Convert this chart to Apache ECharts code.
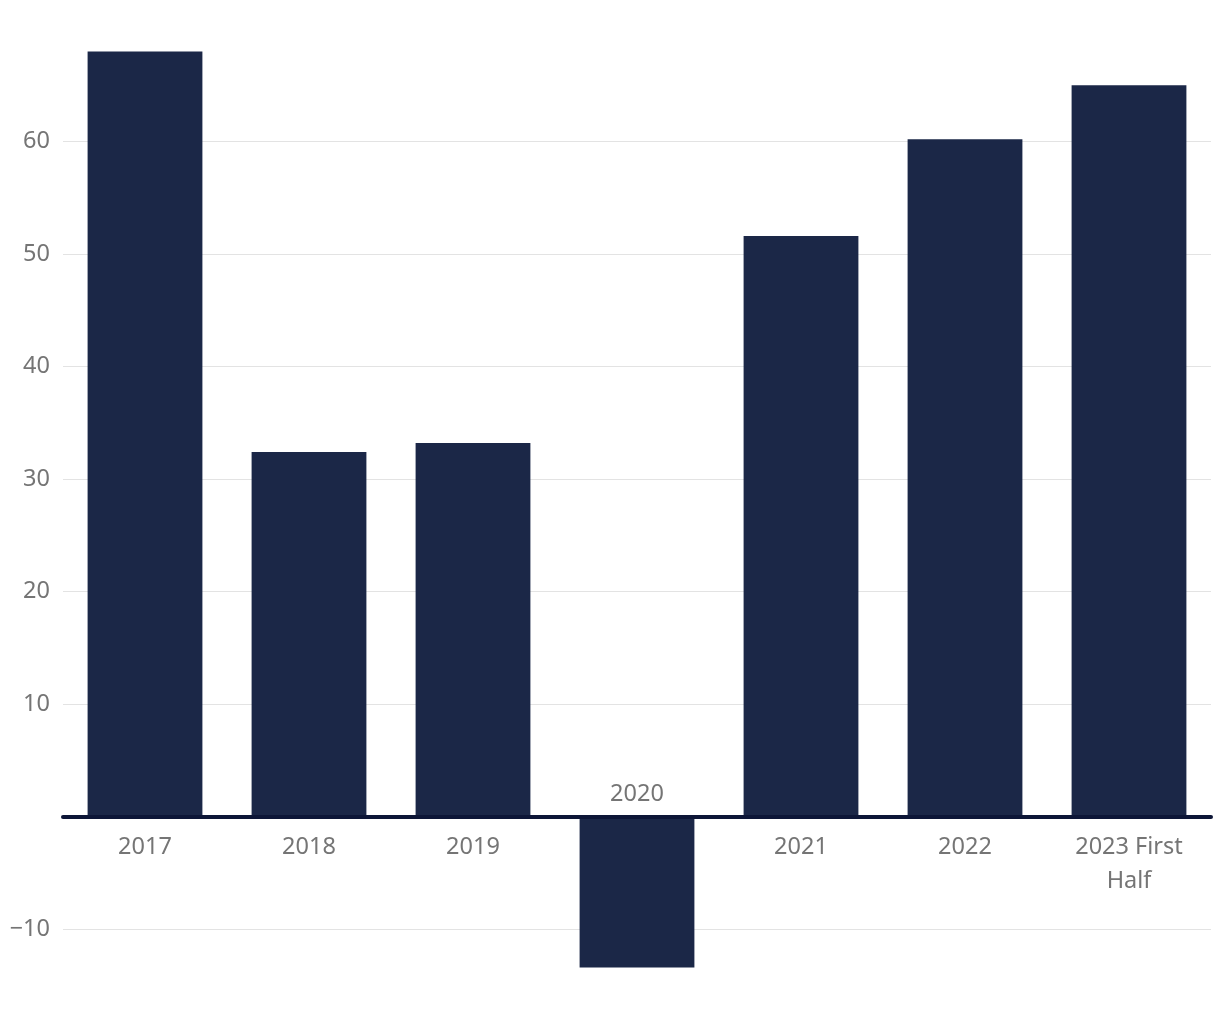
<!DOCTYPE html>
<html><head><meta charset="utf-8">
<script src="https://cdn.jsdelivr.net/npm/echarts@6/dist/echarts.min.js"></script>
<style>html,body{margin:0;padding:0;background:#fff}#c{width:1220px;height:1020px}</style>
</head><body><div id="c"></div>
<script>
const categories = ['2017', '2018', '2019', '2020', '2021', '2022', '2023 First\nHalf'];
const values = [68, 32.4, 33.2, -13.4, 51.6, 60.2, 65.0];
const yMin = -13.4, yMax = 68;

const FONT = 'Noto Sans';
const chart = echarts.init(document.getElementById('c'));
chart.setOption({
  animation: false,
  grid: { left: 63, right: 9, top: 51.5, bottom: 52.5, containLabel: false },
  xAxis: {
    type: 'category', data: categories,
    axisLine: { onZero: true, lineStyle: { color: '#0d1637', width: 4 } },
    axisTick: { show: false },
    axisLabel: { show: false },
    z: 10
  },
  yAxis: {
    type: 'value', min: yMin, max: yMax, splitNumber: 8, minInterval: 10, maxInterval: 10,
    axisLine: { show: false }, axisTick: { show: false },
    splitLine: { showMinLine: false, showMaxLine: false, lineStyle: { color: '#e3e3e3', width: 1 } },
    axisLabel: {
      showMinLabel: false, showMaxLabel: false,
      color: '#757575', fontFamily: FONT, fontSize: 23.5, margin: 13,
      formatter: v => v === 0 ? '' : (v < 0 ? '\u2212' + Math.abs(v) : String(v))
    }
  },
  series: [
    {
      type: 'bar', data: values, barCategoryGap: '30%',
      itemStyle: { color: '#1b2747' }, z: 2
    },
    {
      type: 'bar', barGap: '-100%', silent: true,
      data: categories.map((c, i) => ({
        value: 0,
        label: values[i] < 0 ? { position: 'top', distance: 5 } : { position: 'bottom', distance: 14 }
      })),
      itemStyle: { color: 'transparent' },
      label: {
        show: true, formatter: p => categories[p.dataIndex],
        color: '#757575', fontFamily: FONT, fontSize: 23.5, lineHeight: 34
      }
    }
  ]
});
</script></body></html>
